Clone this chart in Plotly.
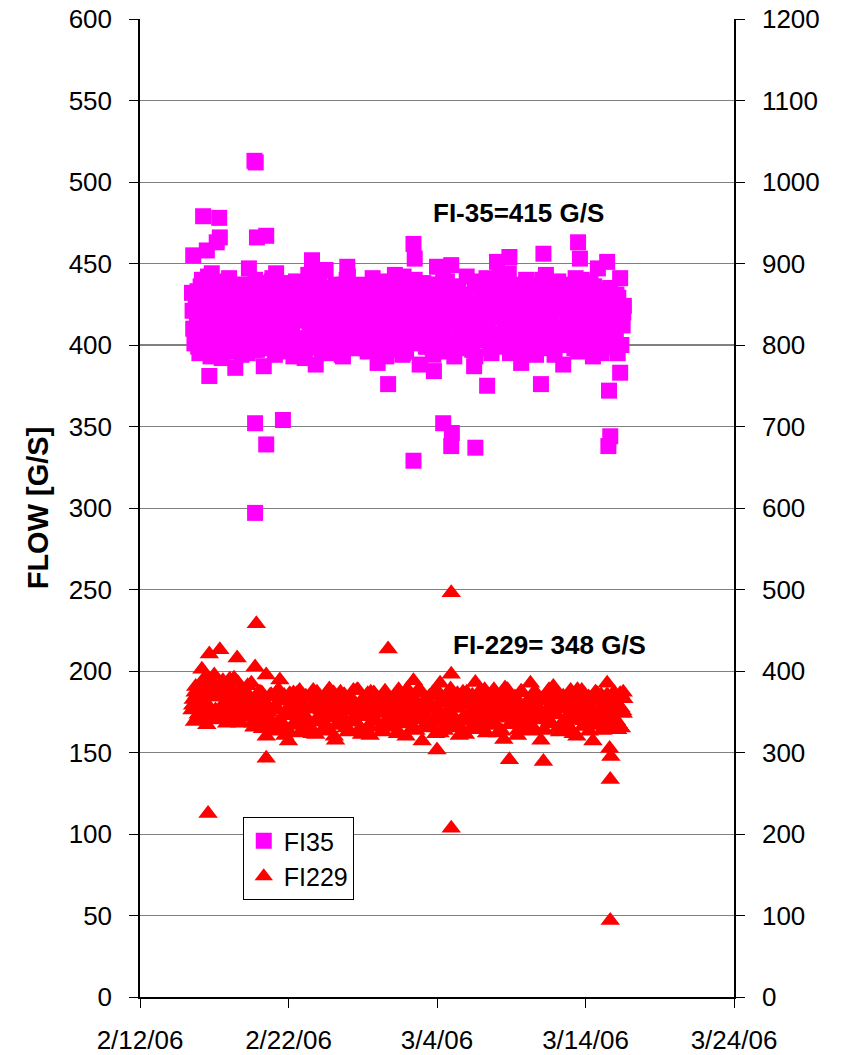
import pandas as pd
import plotly.graph_objects as go

# ---------------- data ----------------
SAMPLE_START_A = "2006-02-15 12:00"
SAMPLE_START_B = "2006-02-15 14:00"
SAMPLE_START_C = "2006-02-15 13:00"
SAMPLE_STEP = "4h"

# FI35 flow [G/S], left axis, 4-hour readings (set A)
fi35_core_a = [
    432, 401, 418, 395, 440, 412, 425, 398, 444, 407,
    419, 436, 392, 428, 410, 441, 399, 423, 414, 437,
    394, 430, 405, 447, 416, 397, 433, 409, 426, 387,
    438, 413, 402, 429, 444, 396, 420, 435, 408, 400,
    427, 393, 439, 415, 404, 431, 398, 443, 411, 422,
    388, 434, 417, 406, 446, 395, 424, 412, 437, 401,
    429, 393, 418, 442, 405, 426, 398, 436, 414, 403,
    432, 396, 421, 441, 409, 389, 430, 416, 438, 400,
    425, 397, 443, 411, 419, 394, 435, 407, 428, 402,
    440, 413, 388, 433, 418, 399, 437, 406, 423, 448,
    396, 429, 410, 439, 401, 420, 393, 434, 415, 427,
    398, 442, 408, 424, 387, 436, 412, 430, 403, 441,
    417, 395, 431, 405, 438, 399, 422, 414, 444, 397,
    426, 409, 435, 389, 419, 440, 402, 428, 413, 394,
    437, 406, 423, 443, 398, 416, 432, 401, 439, 410,
    388, 427, 418, 436, 404, 441, 396, 421, 433, 400,
    414, 438, 393, 425, 447, 408, 399, 430, 417, 435,
    403, 420, 395, 441, 412,
]
# FI35 4-hour readings (set B, two hours later)
fi35_core_b = [
    410, 427, 399, 436, 404, 421, 442, 393, 417, 431,
    402, 425, 439, 408, 396, 433, 415, 428, 401, 419,
    437, 411, 395, 424, 406, 440, 418, 398, 434, 412,
    403, 426, 441, 394, 416, 430, 407, 422, 397, 438,
    413, 400, 429, 418, 436, 392, 424, 409, 432, 404,
    421, 443, 397, 415, 428, 402, 419, 435, 408, 425,
    394, 411, 440, 416, 399, 431, 422, 405, 437, 413,
    420, 402, 434, 398, 426, 414, 439, 406, 393, 429,
    417, 436, 401, 423, 410, 442, 396, 419, 432, 407,
    425, 404, 415, 438, 399, 427, 412, 394, 433, 418,
    406, 441, 421, 397, 430, 414, 403, 436, 409, 424,
    431, 400, 418, 426, 393, 439, 411, 405, 428, 416,
    398, 434, 407, 420, 442, 403, 413, 427, 395, 437,
    410, 423, 401, 431, 417, 396, 435, 408, 426, 404,
    419, 440, 399, 414, 429, 411, 394, 433, 421, 406,
    437, 402, 425, 415, 398, 431, 409, 440, 418, 397,
    428, 412, 436, 404, 422, 395, 434, 416, 401, 427,
    409, 431, 418, 400, 424,
]
# FI35 4-hour readings (set C, one hour after set A)
fi35_core_c = [
    421, 405, 433, 414, 399, 427, 410, 438, 402, 419,
    430, 408, 424, 396, 416, 435, 403, 422, 411, 429,
    400, 418, 436, 407, 425, 413, 397, 431, 420, 404,
    428, 415, 439, 401, 423, 409, 434, 418, 398, 426,
    412, 437, 404, 420, 431, 400, 416, 428, 407, 439,
    414, 399, 425, 410, 433, 419, 403, 430, 415, 396,
    424, 437, 408, 421, 401, 429, 413, 435, 405, 418,
    398, 427, 411, 432, 403, 420, 438, 409, 425, 414,
    400, 434, 417, 406, 428, 395, 422, 412, 436, 404,
    419, 430, 401, 415, 426, 409, 437, 398, 423, 411,
    432, 405, 418, 428, 399, 435, 413, 420, 402, 430,
    416, 407, 425, 397, 438, 410, 421, 403, 433, 414,
    426, 400, 418, 431, 406, 422, 412, 436, 399, 428,
    415, 404, 434, 410, 420, 398, 427, 416, 401, 432,
    409, 424, 414, 437, 403, 419, 430, 407, 423, 411,
    400, 433, 417, 405, 426, 413, 438, 402, 420, 429,
    408, 416, 435, 399, 424, 411, 431, 404, 418, 427,
    413, 406, 429, 415, 420,
]

# FI35 isolated readings
fi35_extra_dates = [
    "2006-02-15 14:00", "2006-02-16 06:00", "2006-02-16 12:00", "2006-02-16 16:00",
    "2006-02-17 04:00", "2006-02-17 08:00", "2006-02-17 09:00", "2006-02-18 10:00",
    "2006-02-19 17:00", "2006-02-19 19:00", "2006-02-19 18:00", "2006-02-19 18:00",
    "2006-02-19 21:00", "2006-02-20 12:00", "2006-02-20 12:00", "2006-02-21 15:00",
    "2006-02-23 14:00", "2006-02-25 23:00", "2006-02-28 17:00", "2006-03-02 10:00",
    "2006-03-02 10:00", "2006-03-02 12:00", "2006-03-03 19:00", "2006-03-04 10:00",
    "2006-03-04 23:00", "2006-03-05 00:00", "2006-03-04 23:00", "2006-03-06 14:00",
    "2006-03-07 09:00", "2006-03-08 01:00", "2006-03-08 21:00", "2006-03-11 00:00",
    "2006-03-11 04:00", "2006-03-13 12:00", "2006-03-13 15:00", "2006-03-15 11:00",
    "2006-03-15 13:00", "2006-03-15 14:00", "2006-03-15 16:00", "2006-03-16 08:00",
]
fi35_extra_values = [
    455, 479, 458, 381,
    463, 478, 466, 386,
    513, 512, 352, 297,
    466, 467, 339, 354,
    452, 448, 376, 462,
    329, 453, 384, 352,
    338, 346, 449, 337,
    375, 451, 454, 376,
    456, 463, 453, 451,
    338, 372, 344, 383,
]

# FI229 flow [G/S], right axis, 4-hour readings (set A)
fi229_core_a = [
    352, 338, 371, 345, 362, 389, 334, 376, 350, 395,
    341, 368, 357, 383, 336, 372, 347, 391, 360, 339,
    379, 353, 366, 344, 385, 331, 358, 374, 342, 363,
    320, 349, 371, 335, 356, 377, 328, 346, 365, 314,
    352, 373, 337, 360, 324, 348, 369, 333, 355, 376,
    322, 344, 363, 338, 371, 327, 351, 366, 315, 347,
    374, 336, 359, 325, 368, 342, 353, 377, 330, 361,
    345, 372, 321, 356, 339, 367, 349, 326, 375, 341,
    358, 334, 370, 323, 352, 364, 337, 378, 346, 329,
    362, 350, 373, 314, 357, 340, 369, 331, 354, 376,
    343, 365, 327, 360, 348, 372, 335, 356, 321, 367,
    344, 374, 338, 351, 363, 329, 370, 346, 359, 324,
    366, 341, 377, 333, 355, 368, 316, 349, 372, 337,
    361, 345, 328, 375, 352, 339, 364, 326, 358, 371,
    342, 315, 367, 350, 335, 373, 347, 362, 330, 356,
    369, 338, 353, 376, 323, 360, 344, 371, 332, 357,
    340, 366, 314, 374, 348, 363, 327, 355, 370, 336,
    345, 361, 328, 372, 351,
]
# FI229 4-hour readings (set B, two hours later)
fi229_core_b = [
    365, 381, 347, 372, 358, 393, 341, 369, 384, 352,
    375, 343, 388, 361, 349, 379, 366, 338, 386, 355,
    370, 346, 382, 359, 336, 367, 351, 374, 329, 362,
    344, 370, 326, 357, 375, 339, 364, 321, 350, 372,
    333, 361, 347, 376, 328, 355, 341, 368, 323, 359,
    374, 337, 352, 366, 330, 378, 345, 320, 362, 349,
    334, 371, 356, 327, 365, 340, 376, 350, 322, 359,
    368, 332, 347, 373, 338, 360, 325, 355, 370, 343,
    331, 364, 351, 377, 336, 358, 320, 369, 344, 362,
    327, 353, 375, 340, 366, 333, 357, 372, 323, 348,
    370, 337, 361, 346, 378, 330, 354, 365, 339, 374,
    322, 358, 343, 369, 335, 351, 376, 328, 362, 347,
    339, 372, 356, 324, 366, 343, 359, 377, 334, 350,
    368, 321, 354, 373, 341, 362, 330, 357, 375, 345,
    353, 366, 327, 371, 338, 359, 349, 374, 325, 363,
    335, 358, 372, 343, 368, 320, 351, 376, 339, 361,
    326, 365, 349, 373, 334, 357, 342, 370, 331, 362,
    374, 339, 356, 330, 366,
]
# FI229 4-hour readings (set C, one hour after set A)
fi229_core_c = [
    358, 374, 343, 366, 380, 349, 371, 355, 387, 340,
    368, 352, 377, 345, 362, 390, 348, 370, 357, 336,
    375, 361, 343, 369, 352, 338, 364, 347, 373, 331,
    356, 341, 368, 328, 352, 363, 337, 370, 345, 325,
    360, 348, 372, 334, 357, 343, 366, 329, 353, 371,
    339, 362, 326, 350, 367, 342, 358, 373, 333, 355,
    346, 369, 330, 361, 351, 376, 337, 357, 344, 367,
    328, 352, 374, 340, 363, 348, 331, 370, 355, 338,
    365, 345, 359, 326, 372, 349, 362, 335, 356, 368,
    341, 376, 350, 330, 364, 344, 358, 373, 337, 353,
    324, 361, 347, 369, 336, 355, 342, 372, 331, 359,
    366, 345, 328, 370, 351, 338, 363, 356, 377, 340,
    352, 334, 368, 347, 360, 326, 355, 372, 342, 365,
    337, 358, 349, 374, 332, 361, 345, 369, 329, 354,
    367, 340, 363, 351, 377, 336, 357, 346, 370, 331,
    359, 343, 366, 328, 354, 372, 340, 361, 349, 337,
    368, 352, 333, 364, 345, 371, 329, 358, 346, 366,
    341, 362, 335, 355, 348,
]

# FI229 isolated readings
fi229_extra_dates = [
    "2006-02-16 04:00", "2006-02-16 14:00", "2006-02-16 16:00", "2006-02-17 09:00",
    "2006-02-18 13:00", "2006-02-19 18:00", "2006-02-19 20:00", "2006-02-20 12:00",
    "2006-02-20 12:00", "2006-02-21 10:00", "2006-02-28 17:00", "2006-03-02 10:00",
    "2006-03-04 00:00", "2006-03-04 05:00", "2006-03-04 23:00", "2006-03-04 23:00",
    "2006-03-04 23:00", "2006-03-06 14:00", "2006-03-08 14:00", "2006-03-08 21:00",
    "2006-03-10 07:00", "2006-03-11 04:00", "2006-03-11 20:00", "2006-03-13 11:00",
    "2006-03-15 11:00", "2006-03-15 16:00", "2006-03-15 16:00", "2006-03-15 15:00",
    "2006-03-15 17:00", "2006-03-16 13:00",
]
fi229_extra_values = [
    402, 225, 421, 426,
    416, 405, 458, 395,
    293, 389, 427, 388,
    303, 385, 496, 207,
    396, 386, 379, 291,
    385, 289, 381, 377,
    385, 267, 94, 305,
    295, 374,
]

x_range = ["2006-02-12", "2006-03-24"]
x_tick0 = "2006-02-12"
x_tick_days = 10
left_range = [0, 600]
left_step = 50
right_range = [0, 1200]
right_step = 100
mean_line = 400

labels = {
    "fi35": "FI35",
    "fi229": "FI229",
    "ytitle": "FLOW [G/S]",
    "note35": "FI-35=415 G/S",
    "note229": "FI-229= 348 G/S",
}

# ---------------- build ----------------
def times(start, values):
    return list(pd.date_range(start=start, periods=len(values), freq=SAMPLE_STEP))

fi35_x = (times(SAMPLE_START_A, fi35_core_a) + times(SAMPLE_START_B, fi35_core_b)
          + times(SAMPLE_START_C, fi35_core_c) + list(pd.to_datetime(fi35_extra_dates)))
fi35_y = fi35_core_a + fi35_core_b + fi35_core_c + fi35_extra_values
fi229_x = (times(SAMPLE_START_A, fi229_core_a) + times(SAMPLE_START_B, fi229_core_b)
           + times(SAMPLE_START_C, fi229_core_c) + list(pd.to_datetime(fi229_extra_dates)))
fi229_y = fi229_core_a + fi229_core_b + fi229_core_c + fi229_extra_values

FONT = "Liberation Sans, Arial, sans-serif"

fig = go.Figure()
fig.add_trace(go.Scatter(
    x=fi35_x, y=fi35_y, mode="markers", name=labels["fi35"],
    marker=dict(symbol="square", size=16, color="#FF00FF", line=dict(width=0)),
    yaxis="y",
))
fig.add_trace(go.Scatter(
    x=fi229_x, y=fi229_y, mode="markers", name=labels["fi229"],
    marker=dict(symbol="triangle-up", size=17, color="#FF0000", line=dict(width=0)),
    yaxis="y2",
))

fig.add_shape(type="line", xref="paper", x0=0, x1=1, yref="y", y0=mean_line, y1=mean_line,
              line=dict(color="black", width=1), layer="below")

fig.add_annotation(text="<b>" + labels["note35"] + "</b>", xref="paper", yref="paper",
                   x=0.49, y=0.8016, xanchor="left", yanchor="middle", showarrow=False,
                   font=dict(family=FONT, size=26, color="black"))
fig.add_annotation(text="<b>" + labels["note229"] + "</b>", xref="paper", yref="paper",
                   x=0.524, y=0.36, xanchor="left", yanchor="middle", showarrow=False,
                   font=dict(family=FONT, size=26, color="black"))

fig.update_layout(
    width=844, height=1055,
    margin=dict(l=140, r=110, t=19, b=58),
    paper_bgcolor="white", plot_bgcolor="white",
    font=dict(family=FONT, size=26, color="black"),
    showlegend=True,
    legend=dict(
        x=0.173, y=0.184, xanchor="left", yanchor="top",
        bgcolor="white", bordercolor="black", borderwidth=1,
        font=dict(family=FONT, size=25, color="black"),
        tracegroupgap=0, itemsizing="trace",
    ),
    xaxis=dict(
        type="date", range=x_range, tick0=x_tick0, dtick=x_tick_days * 86400000,
        tickformat="%-m/%-d/%y", showgrid=False, zeroline=False, automargin=False,
        showline=True, linecolor="black", linewidth=1.5,
        ticks="outside", ticklen=9, tickcolor="black",
        ticklabelstandoff=10,
        tickfont=dict(family=FONT, size=26, color="black"),
    ),
    yaxis=dict(
        range=left_range, dtick=left_step, tick0=0, automargin=False,
        showgrid=True, gridcolor="#808080", gridwidth=1, zeroline=False,
        showline=True, linecolor="black", linewidth=1.5,
        ticks="outside", ticklen=9, tickcolor="black",
        tickfont=dict(family=FONT, size=26, color="black"),
        ticklabelstandoff=12,
        title=dict(text="<b>" + labels["ytitle"] + "</b>", standoff=12,
                   font=dict(family=FONT, size=29, color="black")),
    ),
    yaxis2=dict(
        range=right_range, dtick=right_step, tick0=0, overlaying="y", side="right",
        showgrid=False, zeroline=False, automargin=False,
        showline=True, linecolor="black", linewidth=1.5,
        ticks="outside", ticklen=9, tickcolor="black",
        tickfont=dict(family=FONT, size=26, color="black"),
        ticklabelstandoff=12,
    ),
)

fig.write_html("out.html")
